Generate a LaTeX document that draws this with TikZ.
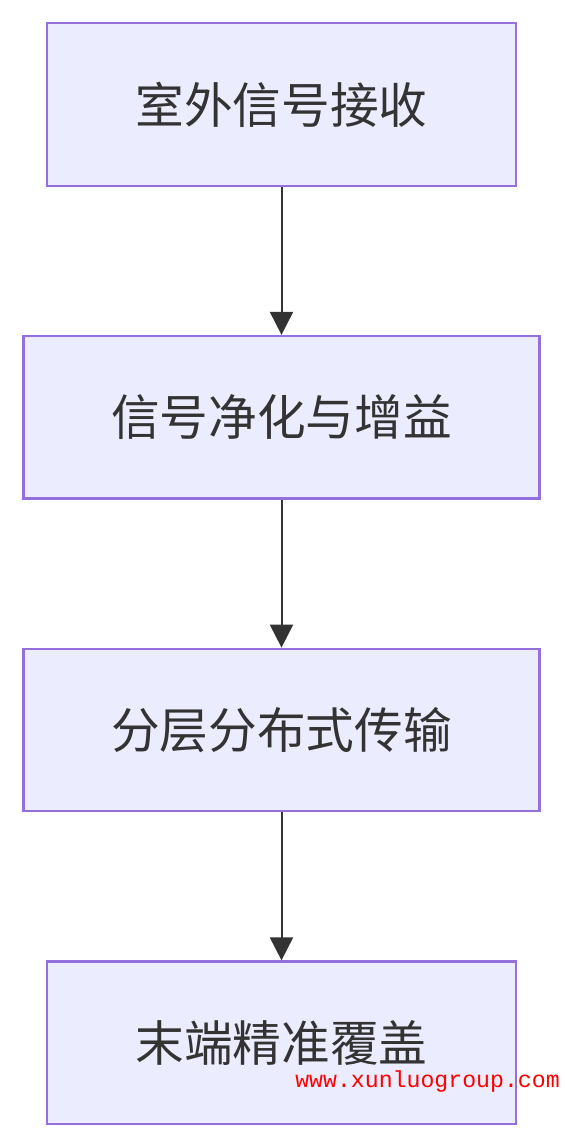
\documentclass[tikz,border=0pt]{standalone}
\usepackage{fontspec}
\setmainfont{Noto Sans CJK SC}
\newfontfamily\markfont{Liberation Mono}
\usepackage{tikz}
\usetikzlibrary{positioning,arrows.meta}
\definecolor{boxfill}{HTML}{ECECFF}
\definecolor{boxline}{HTML}{9370DB}
\definecolor{ink}{HTML}{333333}
\tikzstyle{stage} = [rectangle, draw=boxline, fill=boxfill, line width=0.045cm, text=ink, font=\fontsize{27.7}{32}\selectfont, minimum height=3.25cm]
\tikzstyle{connector} = [draw=ink, line width=0.04cm, -{Triangle[length=0.46cm,width=0.46cm]}]

\begin{document}
\begin{tikzpicture}[node distance=2.96cm]
                \useasboundingbox (0,0) rectangle (11.28,-22.92);
                \node (recv) [stage, minimum width=9.38cm] at (5.63,-2.09) {室外信号接收};
                \node (boost) [stage, minimum width=10.32cm, below=of recv] {信号净化与增益};
                \node (dist) [stage, minimum width=10.32cm, below=of boost] {分层分布式传输};
                \node (cover) [stage, minimum width=9.38cm, below=of dist] {末端精准覆盖};
                \node (mark) [text=red, inner sep=0pt, font=\markfont\fontsize{13.2}{15}\selectfont] at (8.55,-21.62) {www.xunluogroup.com};

                \draw [connector] (recv) -- (boost);
                \draw [connector] (boost) -- (dist);
                \draw [connector] (dist) -- (cover);
            \end{tikzpicture}
\end{document}
